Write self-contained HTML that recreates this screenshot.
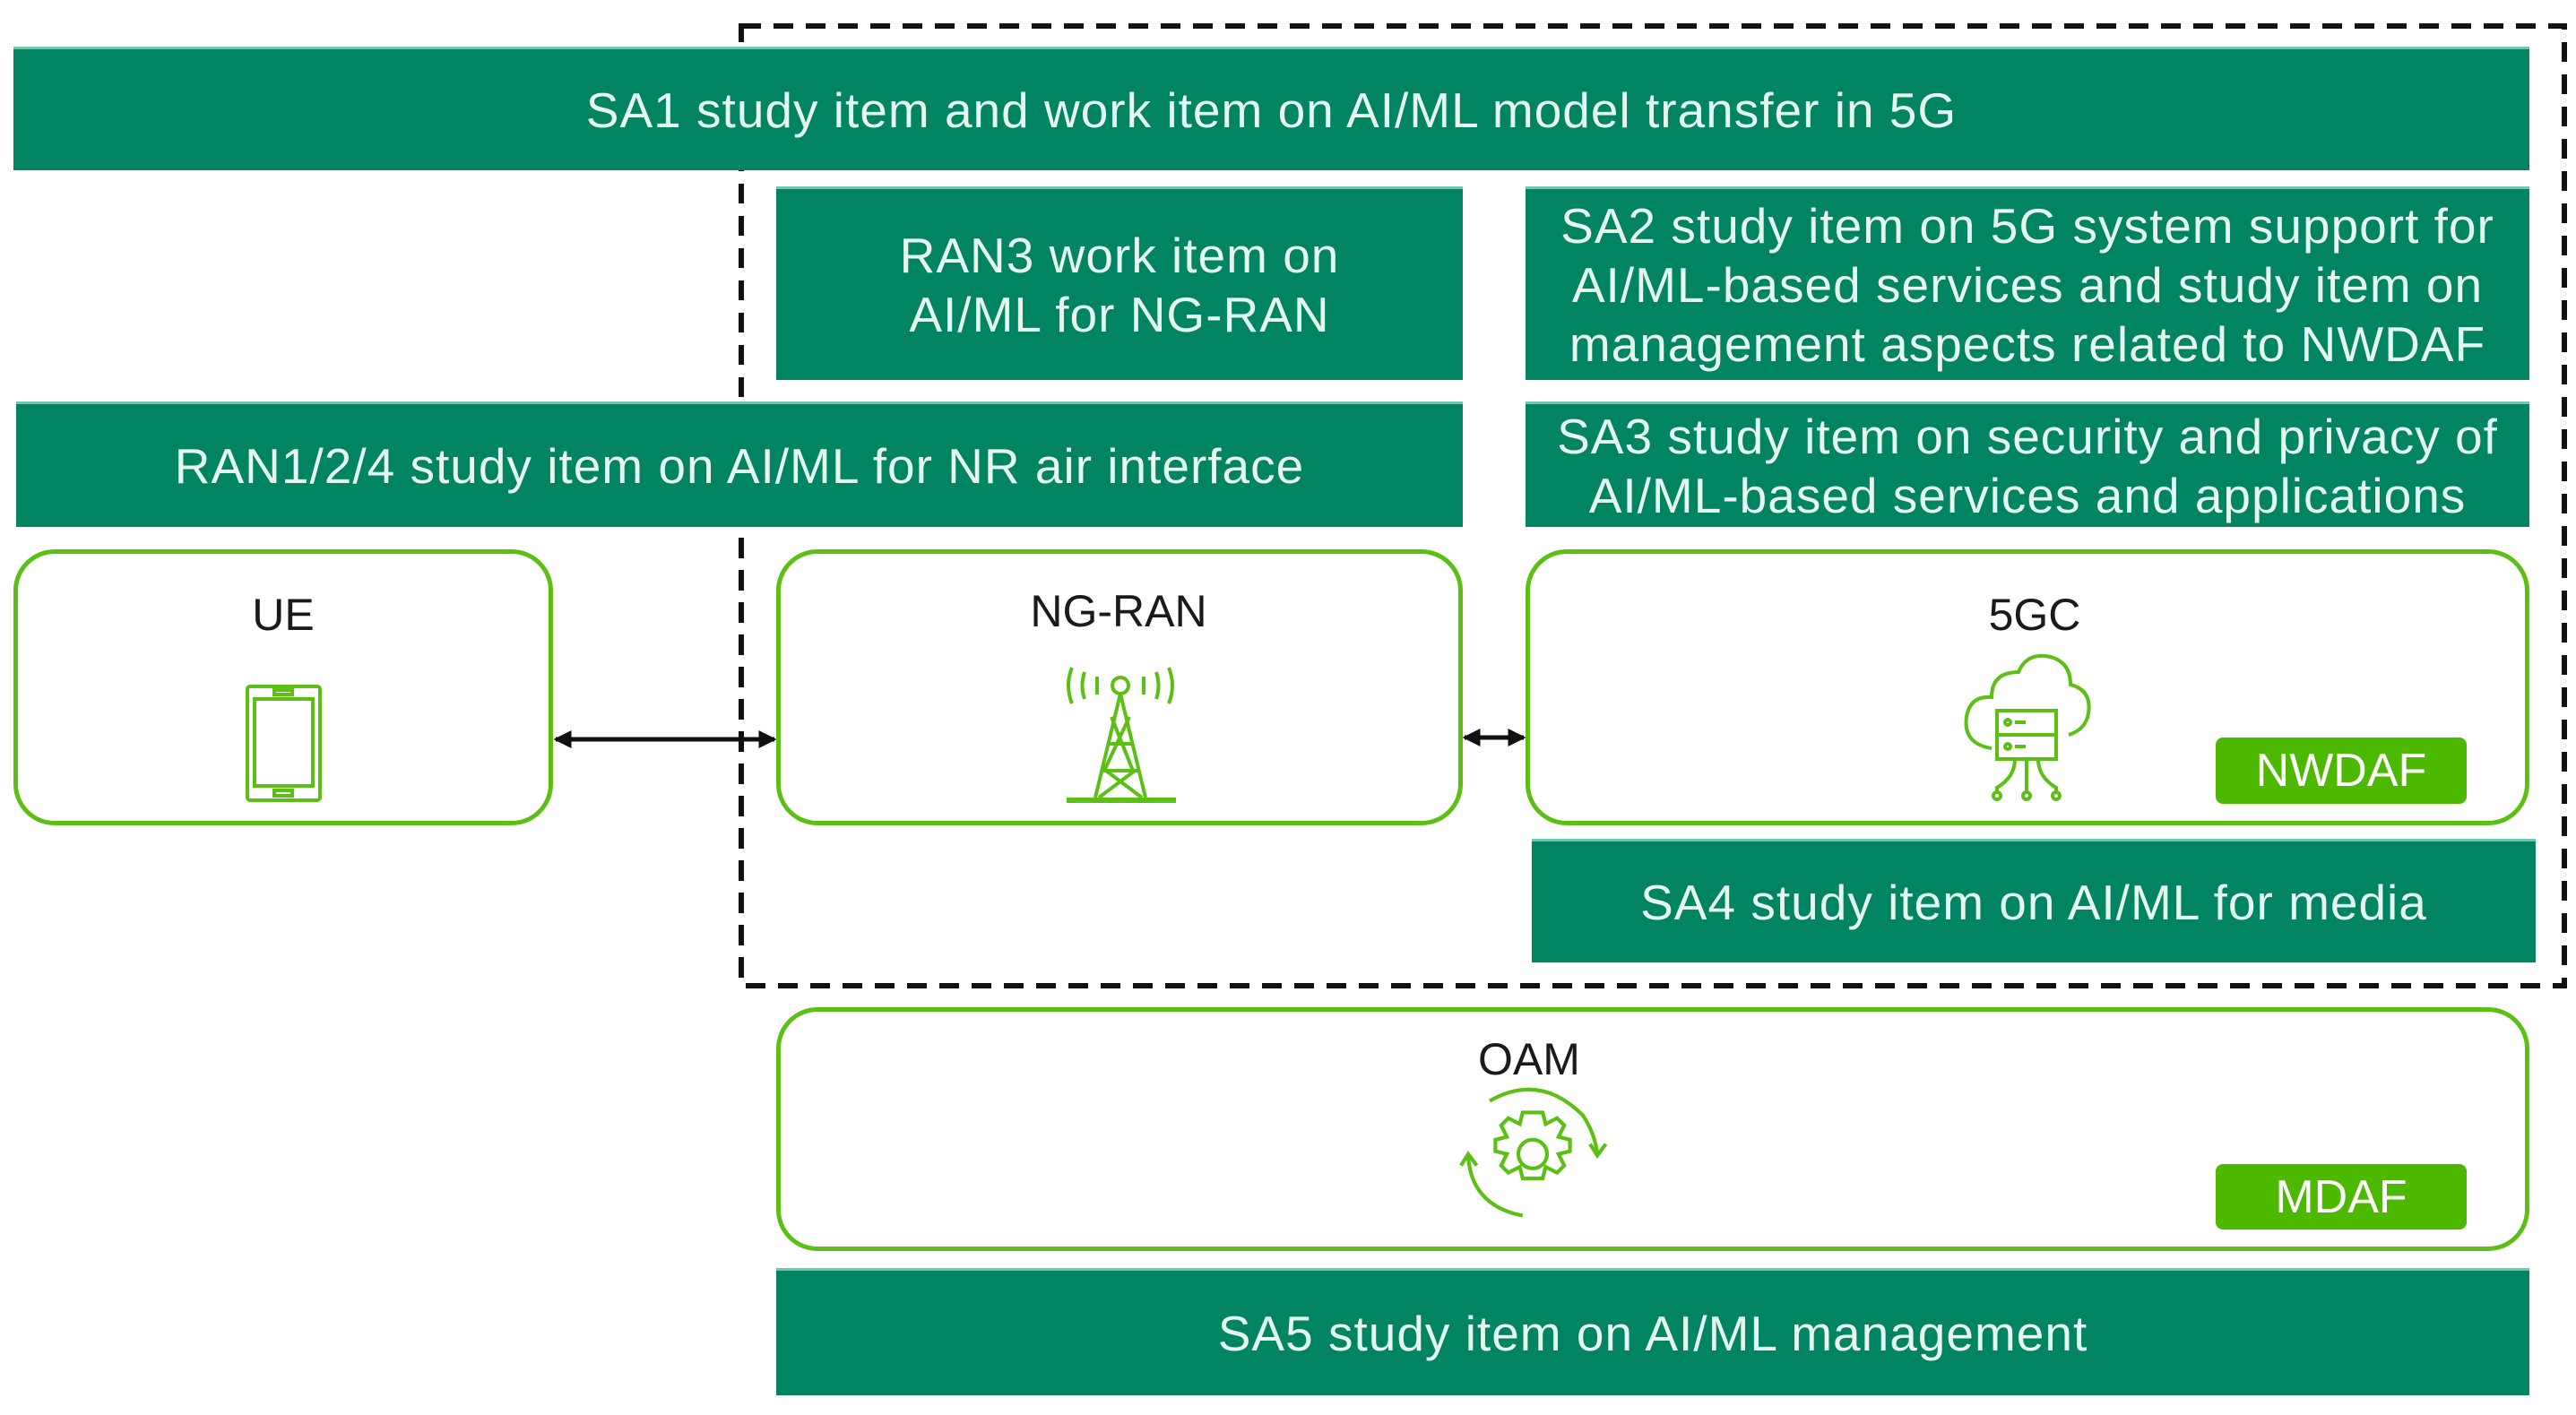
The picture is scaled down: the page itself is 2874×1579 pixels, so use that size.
<!DOCTYPE html>
<html><head><meta charset="utf-8"><style>
html,body{margin:0;padding:0;background:#fff;}
body{width:2874px;height:1579px;position:relative;overflow:hidden;font-family:"Liberation Sans",sans-serif;}
.bar{position:absolute;background:#008462;border-top:3px solid #6fc9b0;color:#e6f7f0;font-size:55px;letter-spacing:1px;display:flex;align-items:center;justify-content:center;text-align:center;line-height:66px;box-sizing:border-box;white-space:nowrap;}
.box{position:absolute;border:5px solid #5cbf14;border-radius:46px;box-sizing:border-box;background:#fff;}
.lbl{position:absolute;font-size:50px;color:#1a1a1a;transform:translateX(-50%);}
.tag{position:absolute;background:#4db800;color:#fff;font-size:52px;border-radius:8px;display:flex;align-items:center;justify-content:center;}
</style></head><body>
<svg width="2874" height="1579" style="position:absolute;left:0;top:0">
<path d="M827 29 H2861 V1100 H827 Z" fill="none" stroke="#111" stroke-width="6" stroke-dasharray="22 14"/>
</svg>
<div class="bar" style="left:15px;top:52px;width:2807px;height:138px;">SA1 study item and work item on AI/ML model transfer in 5G</div>
<div class="bar" style="left:866px;top:208px;width:766px;height:216px;">RAN3 work item on<br>AI/ML for NG-RAN</div>
<div class="bar" style="left:1702px;top:208px;width:1120px;height:216px;">SA2 study item on 5G system support for<br>AI/ML-based services and study item on<br>management aspects related to NWDAF</div>
<div class="bar" style="left:18px;top:448px;width:1614px;height:140px;">RAN1/2/4 study item on AI/ML for NR air interface</div>
<div class="bar" style="left:1702px;top:448px;width:1120px;height:140px;">SA3 study item on security and privacy of<br>AI/ML-based services and applications</div>
<div class="box" style="left:15px;top:613px;width:602px;height:308px;"></div>
<div class="box" style="left:866px;top:613px;width:766px;height:308px;"></div>
<div class="box" style="left:1702px;top:613px;width:1120px;height:308px;"></div>
<div class="lbl" style="left:316px;top:657px;">UE</div>
<div class="lbl" style="left:1248px;top:653px;">NG-RAN</div>
<div class="lbl" style="left:2270px;top:657px;">5GC</div>
<div class="tag" style="left:2472px;top:823px;width:280px;height:74px;">NWDAF</div>
<div class="bar" style="left:1709px;top:936px;width:1120px;height:138px;">SA4 study item on AI/ML for media</div>
<div class="box" style="left:866px;top:1124px;width:1956px;height:272px;"></div>
<div class="lbl" style="left:1706px;top:1153px;">OAM</div>
<div class="tag" style="left:2472px;top:1299px;width:280px;height:73px;">MDAF</div>
<div class="bar" style="left:866px;top:1415px;width:1956px;height:142px;">SA5 study item on AI/ML management</div>
<svg width="2874" height="1579" style="position:absolute;left:0;top:0">
<path d="M827 600 V1100" stroke="#111" stroke-width="6" stroke-dasharray="22 14"/>
<defs><marker id="a" markerWidth="4" markerHeight="4" refX="3.5" refY="2" orient="auto-start-reverse"><path d="M0 0 L4 2 L0 4Z" fill="#111"/></marker></defs>
<line x1="620" y1="825" x2="864" y2="825" stroke="#111" stroke-width="5" marker-start="url(#a)" marker-end="url(#a)"/>
<line x1="1634" y1="823" x2="1700" y2="823" stroke="#111" stroke-width="5" marker-start="url(#a)" marker-end="url(#a)"/>
<g fill="none" stroke="#5cbf14" stroke-width="4">
<rect x="276" y="766" width="81" height="127" rx="3"/><rect x="284" y="780" width="65" height="97"/>
<rect x="306" y="770" width="20" height="5"/><rect x="306" y="882" width="20" height="6"/>
<circle cx="1250" cy="765" r="9"/>
<path d="M1250 774 L1222 890 M1250 774 L1278 890 M1236 830 L1264 830 M1230 860 L1270 860 M1240 800 L1264 860 M1260 800 L1232 860 M1234 860 L1274 890 M1266 860 L1226 890"/>
<path d="M1190 893 H1312" stroke-width="6"/>
<path d="M1196 745 q-8 20 0 40 M1210 750 q-5 15 0 30 M1224 755 v20 M1304 745 q8 20 0 40 M1290 750 q5 15 0 30 M1276 755 v20"/>
<path d="M2222 835 q-32 -5 -28 -35 q4 -24 28 -22 q0 -28 30 -28 q8 -20 30 -18 q28 4 28 32 q24 6 20 32 q-3 18 -22 24"/>
<rect x="2228" y="793" width="66" height="54"/><line x1="2228" y1="820" x2="2294" y2="820"/>
<circle cx="2240" cy="806" r="3"/><line x1="2248" y1="806" x2="2260" y2="806"/><circle cx="2240" cy="833" r="3"/><line x1="2248" y1="833" x2="2260" y2="833"/>
<path d="M2261 847 V884 M2248 847 q0 20 -20 32 v6 M2274 847 q0 20 20 32 v6"/>
<circle cx="2261" cy="888" r="4"/><circle cx="2228" cy="888" r="4"/><circle cx="2294" cy="888" r="4"/>
<g transform="translate(1710 1291) scale(1.6) translate(-1710 -1291)" stroke-width="2.6">
<circle cx="1710" cy="1289" r="10"/>
<path d="M1710 1260 l7 0 l2 8 l8 -4 l5 5 l-4 8 l8 2 v8 l-8 2 l4 8 l-5 5 l-8 -4 l-2 8 h-7 h-7 l-2 -8 l-8 4 l-5 -5 l4 -8 l-8 -2 v-8 l8 -2 l-4 -8 l5 -5 l8 4 l2 -8 z"/>
<path d="M1665 1290 q2 35 38 42 M1680 1252 q35 -20 65 10 q8 12 10 26 M1750 1282 l5 8 l6 -8 M1660 1297 l5 -8 l6 8"/>
</g>
</g>
</svg>
</body></html>
